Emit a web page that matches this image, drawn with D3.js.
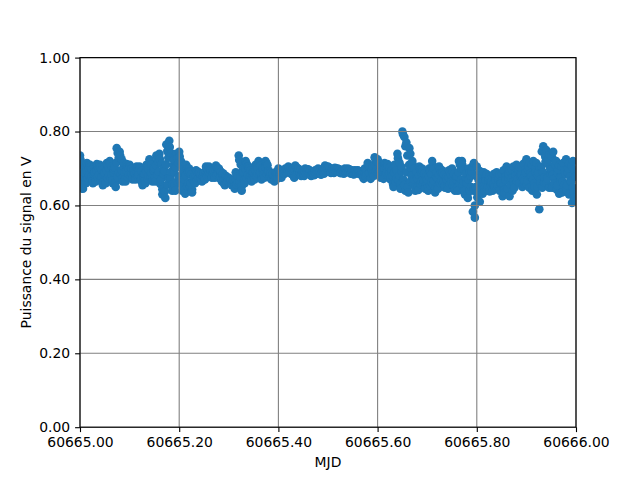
<!DOCTYPE html>
<html>
<head>
<meta charset="utf-8">
<script src="https://cdn.jsdelivr.net/npm/d3@7"></script>
<style>
  html, body { margin: 0; padding: 0; background: #ffffff; }
  svg { display: block; }
  text { font-family: "DejaVu Sans", sans-serif; fill: #000; }
</style>
</head>
<body>
<svg id="chart" width="640" height="480"></svg>
<script>
// ---- data ----
// first sweep of samples: 501 samples from 60665.000 to 60666.000
const mjdStartA = 60665.0;
const stepA = 0.002;
const voltsA = [
  .735,.668,.713,.645,.69,   .688,.66,.715,.674,.701,   .71,.673,.698,.66,.685,   .689,.665,.712,.677,.70,
  .71,.669,.696,.655,.683,   .688,.66,.715,.674,.701,   .72,.675,.705,.66,.69,    .703,.65,.755,.676,.729,
  .745,.685,.725,.665,.705,  .689,.665,.712,.677,.70,   .71,.68,.70,.67,.69,      .688,.67,.705,.679,.696,
  .705,.668,.693,.655,.68,   .685,.66,.71,.673,.698,    .725,.68,.71,.665,.695,   .70,.665,.735,.683,.718,
  .74,.658,.713,.63,.685,    .693,.62,.765,.656,.729,   .775,.674,.741,.64,.708,  .69,.64,.74,.665,.715,
  .745,.666,.719,.64,.693,   .671,.632,.71,.652,.69,    .70,.651,.684,.635,.668,  .678,.66,.695,.669,.686,
  .69,.671,.684,.665,.678,   .688,.67,.705,.679,.696,   .705,.683,.698,.675,.69,  .692,.675,.708,.683,.70,
  .70,.674,.691,.665,.683,   .668,.655,.68,.661,.674,   .675,.66,.67,.655,.665,   .668,.645,.69,.656,.679,
  .735,.664,.711,.64,.688,   .69,.66,.72,.675,.705,     .705,.675,.695,.665,.685, .69,.67,.71,.68,.70,
  .72,.683,.708,.67,.695,    .698,.675,.72,.686,.709,   .695,.676,.689,.67,.683,  .678,.665,.69,.671,.684,
  .70,.681,.694,.675,.688,   .693,.685,.70,.689,.696,   .705,.69,.70,.685,.695,   .692,.675,.708,.683,.70,
  .70,.685,.695,.68,.69,     .69,.68,.70,.685,.695,     .698,.685,.694,.68,.689,  .689,.682,.695,.685,.692,
  .70,.687,.696,.683,.692,   .697,.686,.708,.692,.703,  .705,.692,.701,.688,.697, .695,.688,.702,.692,.699,
  .70,.69,.697,.687,.694,    .693,.686,.70,.69,.697,    .70,.69,.697,.686,.693,   .69,.684,.695,.687,.692,
  .695,.686,.692,.683,.689,  .686,.672,.70,.679,.693,   .715,.683,.704,.672,.694, .705,.68,.73,.693,.718,
  .725,.688,.713,.675,.70,   .694,.672,.715,.683,.704,  .712,.681,.702,.67,.691,  .68,.65,.71,.665,.695,
  .74,.669,.716,.645,.693,   .80,.67,.785,.64,.77,      .735,.635,.755,.665,.70,  .72,.66,.70,.64,.68,
  .674,.642,.705,.658,.689,  .70,.659,.686,.645,.673,   .67,.64,.70,.655,.685,    .72,.656,.699,.635,.678,
  .675,.645,.705,.66,.69,    .695,.66,.683,.648,.672,   .67,.645,.695,.658,.683,  .70,.655,.685,.64,.67,
  .68,.64,.72,.66,.70,       .72,.653,.698,.63,.675,    .66,.62,.70,.64,.68,      .69,.583,.715,.567,.65,
  .705,.634,.681,.61,.658,   .661,.632,.69,.647,.676,   .685,.65,.673,.638,.662,  .663,.64,.685,.651,.674,
  .69,.653,.678,.64,.665,    .66,.625,.695,.643,.678,   .705,.645,.685,.625,.665, .673,.64,.705,.656,.689,
  .71,.673,.698,.66,.685,    .682,.65,.713,.666,.697,   .725,.667,.706,.648,.687, .68,.64,.72,.66,.70,
  .715,.65,.69,.59,.67,      .704,.648,.76,.676,.732,   .75,.674,.725,.648,.699,  .697,.648,.745,.672,.721,
  .72,.654,.698,.632,.676,   .675,.635,.715,.655,.695,  .725,.654,.701,.63,.678,  .664,.607,.72,.635,.692,
  .612
];
// second sweep of samples: 400 samples from 60665.001, every 0.0025 day
const mjdStartB = 60665.001;
const stepB = 0.0025;
const voltsB = [
  .724,.679,.656,.701,  .667,.694,.708,.681,  .704,.679,.666,.691,  .671,.694,.706,.683,
  .703,.676,.662,.689,  .667,.694,.708,.681,  .713,.683,.668,.698,  .663,.716,.742,.689,
  .735,.695,.675,.715,  .671,.694,.706,.683,  .705,.685,.675,.695,  .674,.692,.701,.683,
  .699,.674,.661,.686,  .666,.691,.704,.679,  .718,.688,.673,.703,  .674,.709,.726,.691,
  .726,.671,.644,.699,  .638,.711,.747,.674,  .758,.691,.657,.724,  .653,.703,.728,.678,
  .732,.679,.653,.706,  .642,.681,.70,.661,   .692,.659,.643,.676,  .664,.682,.691,.673,
  .687,.674,.668,.681,  .674,.692,.701,.683,  .701,.686,.679,.694,  .679,.696,.704,.687,
  .696,.678,.669,.687,  .658,.671,.677,.664,  .673,.663,.658,.668,  .651,.673,.684,.662,
  .723,.676,.652,.699,  .668,.698,.713,.683,  .70,.68,.67,.69,      .675,.695,.705,.685,
  .714,.689,.676,.701,  .681,.703,.714,.692,  .692,.679,.673,.686,  .668,.681,.687,.674,
  .697,.684,.678,.691,  .687,.694,.698,.691,  .703,.693,.688,.698,  .679,.696,.704,.687,
  .698,.688,.683,.693,  .683,.693,.698,.688,  .696,.687,.682,.691,  .684,.69,.693,.687,
  .698,.689,.685,.694,  .689,.70,.705,.694,   .703,.694,.69,.699,   .69,.697,.70,.693,
  .698,.692,.689,.695,  .688,.695,.698,.691,  .698,.691,.688,.695,  .685,.691,.694,.688,
  .694,.688,.685,.691,  .676,.69,.697,.683,   .71,.688,.677,.699,   .686,.711,.724,.699,
  .719,.694,.681,.706,  .677,.699,.71,.688,   .707,.686,.675,.696,  .658,.688,.703,.673,
  .728,.681,.657,.704,  .793,.655,.76,.69,    .65,.71,.74,.68,      .71,.67,.65,.69,
  .65,.681,.697,.666,   .693,.666,.652,.679,  .648,.678,.693,.663,  .709,.667,.646,.688,
  .653,.683,.698,.668,  .689,.666,.654,.677,  .651,.676,.689,.664,  .693,.663,.648,.678,
  .65,.69,.71,.67,      .709,.664,.641,.686,  .63,.67,.69,.65,      .705,.64,.60,.68,
  .622,.669,.693,.646,  .683,.654,.639,.668,  .644,.667,.679,.656,  .679,.657,.646,.668,
  .646,.671,.684,.659,  .686,.651,.634,.669,  .635,.675,.695,.655,  .697,.664,.648,.681,
  .666,.691,.704,.679,  .705,.674,.658,.689,  .658,.696,.715,.677,  .71,.67,.65,.69,
  .63,.68,.705,.66,     .746,.69,.662,.718,   .661,.712,.737,.686,  .733,.684,.66,.709,
  .643,.687,.709,.665,  .705,.665,.645,.685,  .642,.689,.713,.666,  .706,.649,.621,.678
];
const pts = voltsA.map((v, i) => ({ t: mjdStartA + i * stepA, v }))
  .concat(voltsB.map((v, i) => ({ t: mjdStartB + i * stepB, v })))
  .sort((a, b) => a.t - b.t);

const xTicks = [60665.0, 60665.2, 60665.4, 60665.6, 60665.8, 60666.0];
const yTicks = [0.0, 0.2, 0.4, 0.6, 0.8, 1.0];
const xLabel = "MJD";
const yLabel = "Puissance du signal en V";

// ---- layout ----
const W = 640, H = 480;
const margin = { left: 80, right: 64, top: 57.6, bottom: 52.8 };
const svg = d3.select("#chart");

const x = d3.scaleLinear().domain([60665.0, 60666.0]).range([margin.left, W - margin.right]);
const y = d3.scaleLinear().domain([0, 1]).range([H - margin.bottom, margin.top]);

svg.append("defs").append("clipPath").attr("id", "plotclip")
  .append("rect")
  .attr("x", x.range()[0]).attr("y", y.range()[1])
  .attr("width", x.range()[1] - x.range()[0])
  .attr("height", y.range()[0] - y.range()[1]);

// points
svg.append("g").attr("clip-path", "url(#plotclip)")
  .selectAll("circle").data(pts).join("circle")
  .attr("cx", d => x(d.t))
  .attr("cy", d => y(d.v))
  .attr("r", 4.3)
  .attr("fill", "#1f77b4");

// grid (drawn above the points, as in the reference)
const grid = svg.append("g");
grid.selectAll("line.vx").data(xTicks).join("line")
  .attr("x1", d => x(d)).attr("x2", d => x(d))
  .attr("y1", y.range()[1]).attr("y2", y.range()[0])
  .attr("stroke", "#808080").attr("stroke-width", 1.1);
grid.selectAll("line.hy").data(yTicks).join("line")
  .attr("y1", d => y(d)).attr("y2", d => y(d))
  .attr("x1", x.range()[0]).attr("x2", x.range()[1])
  .attr("stroke", "#808080").attr("stroke-width", 1.1);

// axes
const xAxis = d3.axisBottom(x).tickValues(xTicks).tickFormat(d3.format(".2f"))
  .tickSizeInner(4.9).tickSizeOuter(0).tickPadding(4.9);
const yAxis = d3.axisLeft(y).tickValues(yTicks).tickFormat(d3.format(".2f"))
  .tickSizeInner(4.9).tickSizeOuter(0).tickPadding(4.9);

const gx = svg.append("g").attr("transform", `translate(0,${y.range()[0]})`).call(xAxis);
const gy = svg.append("g").attr("transform", `translate(${x.range()[0]},0)`).call(yAxis);
[gx, gy].forEach(g => {
  g.select(".domain").remove();
  g.selectAll(".tick line").attr("stroke", "#000").attr("stroke-width", 1.1);
  g.selectAll(".tick text").attr("font-size", 13.9).attr("font-family", "DejaVu Sans").attr("fill", "#000");
});

// spines
svg.append("rect")
  .attr("x", x.range()[0]).attr("y", y.range()[1])
  .attr("width", x.range()[1] - x.range()[0])
  .attr("height", y.range()[0] - y.range()[1])
  .attr("fill", "none").attr("stroke", "#000").attr("stroke-width", 1.1);

// axis labels
svg.append("text")
  .attr("x", (x.range()[0] + x.range()[1]) / 2)
  .attr("y", 467)
  .attr("text-anchor", "middle")
  .attr("font-size", 13.9)
  .text(xLabel);

svg.append("text")
  .attr("transform", `translate(31,${(y.range()[0] + y.range()[1]) / 2}) rotate(-90)`)
  .attr("text-anchor", "middle")
  .attr("font-size", 13.9)
  .text(yLabel);
</script>
</body>
</html>
